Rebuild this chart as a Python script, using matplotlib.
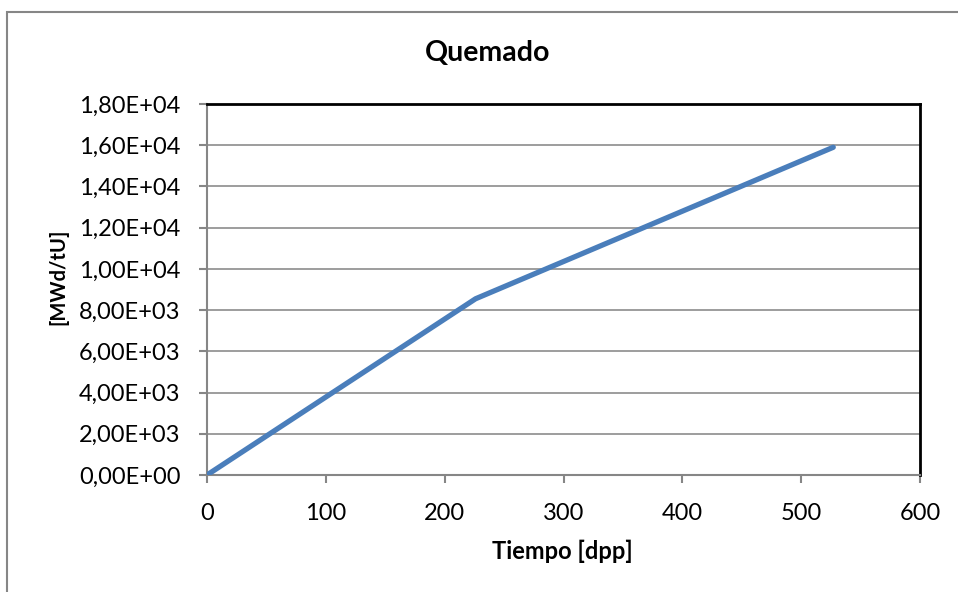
import matplotlib.pyplot as plt
from matplotlib.patches import Rectangle
from matplotlib.ticker import FuncFormatter

tiempo = [0, 226, 527]
quemado = [0, 8550, 15900]

plt.rcParams['font.family'] = ['Lato', 'DejaVu Sans']

W, H = 958, 592
fig = plt.figure(figsize=(W / 100, H / 100), dpi=100)
fig.patches.append(Rectangle((7 / W, -0.1), 1.2, 1 - 12 / H + 0.1,
                             transform=fig.transFigure, fill=False,
                             edgecolor='#868686', linewidth=1.5))
ax = fig.add_axes([207 / W, 1 - 475 / H, 713 / W, 371 / H])

ax.plot(tiempo, quemado, color='#4a7ebb', linewidth=3.8, solid_capstyle='round', zorder=3)

ax.set_xlim(0, 600)
ax.set_ylim(0, 18000)
ax.set_xticks(range(0, 601, 100))
ax.set_yticks(range(0, 18001, 2000))
ax.yaxis.set_major_formatter(FuncFormatter(lambda v, p: f'{v:.2E}'.replace('.', ',')))
ax.grid(axis='y', color='#8c8c8c', linewidth=1.2)
ax.set_axisbelow(True)

for s in ['left', 'bottom']:
    ax.spines[s].set_color('#868686')
    ax.spines[s].set_linewidth(1.5)
for s in ['top', 'right']:
    ax.spines[s].set_color('black')
    ax.spines[s].set_linewidth(2)

ax.tick_params(axis='both', labelsize=17, color='#868686', width=1.5, length=6)
ax.tick_params(axis='y', pad=13)
ax.tick_params(axis='x', pad=14)

fig.text(488 / W, 1 - 53 / H, 'Quemado', fontsize=20.5, fontweight='bold',
         ha='center', va='center')
fig.text(562 / W, 1 - 551 / H, 'Tiempo [dpp]', fontsize=17, fontweight='bold',
         ha='center', va='center')
fig.text(58 / W, 1 - 277 / H, '[MWd/tU]', fontsize=14.5, fontweight='bold',
         ha='center', va='center', rotation=90)

fig.savefig('out.png', dpi=100)
